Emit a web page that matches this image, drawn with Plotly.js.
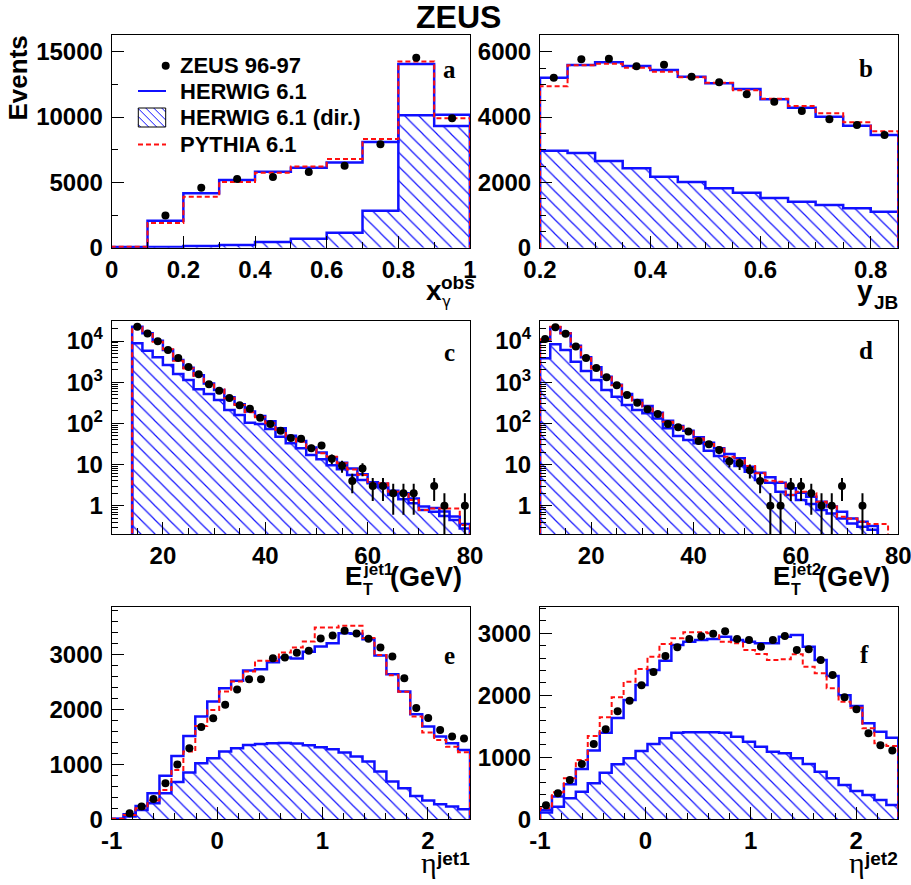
<!DOCTYPE html>
<html><head><meta charset="utf-8">
<script src="https://cdn.plot.ly/plotly-3.0.1.min.js"></script>
<style>html,body{margin:0;padding:0;background:#fff}#plot{width:911px;height:885px}</style>
</head><body><div id="plot"></div>
<script>
// ---------- Panel a : x_gamma^obs ----------
const xgEdges  = [0,0.1,0.2,0.3,0.4,0.5,0.6,0.7,0.8,0.9,1.0];
const xgHerwig = [60,2070,4160,5180,5820,6120,6530,8090,14060,10180];
const xgPythia = [80,1890,3900,5030,5740,6220,6790,8320,14260,9900];
const xgDirect = [10,50,130,200,430,690,1150,2830,10130,9310];
const xgDataX  = [0.15,0.25,0.35,0.45,0.55,0.65,0.75,0.85,0.95];
const xgData   = [2470,4590,5260,5410,5790,6280,7910,14540,9900];

// ---------- Panel b : y_JB ----------
const yjbEdges  = [0.2,0.25,0.3,0.35,0.4,0.45,0.5,0.55,0.6,0.65,0.7,0.75,0.8,0.85];
const yjbHerwig = [5204,5592,5673,5561,5439,5235,5031,4857,4541,4286,4010,3735,3449];
const yjbPythia = [4939,5582,5633,5510,5388,5214,5051,4816,4561,4337,4112,3837,3561];
const yjbDirect = [2969,2898,2653,2429,2173,2010,1816,1684,1520,1408,1306,1204,1102];
const yjbDataX  = [0.225,0.275,0.325,0.375,0.425,0.475,0.525,0.575,0.625,0.675,0.725,0.775,0.825];
const yjbData   = [5204,5765,5786,5551,5602,5235,5061,4694,4469,4184,3929,3755,3449];

// ---------- Panel c : E_T^jet1 ----------
const et1Edges  = [14,16,18,20,22,24,26,28,30,32,34,36,38,40,42,44,46,48,50,52,54,56,58,60,62,64,66,68,70,72,74,76,78,80];
const et1Herwig = [22300,15350,10200,6040,3450,2250,1465,930,650,430,290,195,150,112,76,50,37,26,19.5,15,11,8,5.8,3.7,3.4,2.3,2.0,1.5,0.95,0.88,0.72,0.55,0.36];
const et1Pythia = [21500,15900,9600,6270,3320,2160,1420,935,670,405,278,185,140,100,69,47.6,35.9,23.4,18.7,15.5,10.7,7.6,5.56,3.49,3.49,2.19,2.07,1.37,0.79,0.86,0.86,0.86,0.34];
const et1Direct = [8770,5820,4010,2610,1580,1130,670,516,369,211,159,104,96,72.8,47.4,32.7,24.7,17,13.4,9.55,7.64,5.56,4.2,3.49,2.79,1.82,1.43,1.14,0.79,0.71,0.56,0.45,0.28];
const et1DataX  = [15,17,19,21,23,25,27,29,31,33,35,37,39,41,43,45,47,49,51,53,55,57,59,61,63,65,67,69,73,75,79];
const et1Data   = [22300,15300,9800,6050,3860,2330,1550,885,620,412,274,227,137,96,66,44,42,25,29,13.9,9.3,4,8,3,3,2,2,2,3,1,1];
const et1ErrUp  = [149,124,99,78,62,48,39,30,25,20,17,15,12,10,8.1,6.6,6.5,5,5.4,3.7,3,2,2.8,1.7,1.7,1.4,1.4,1.4,1.7,1,1];
const et1ErrDn  = [149,124,99,78,62,48,39,30,25,20,17,15,12,10,8.1,6.6,6.5,5,5.4,3.7,3,2,2.8,1.7,1.7,1.4,1.4,1.4,1.7,0.999,0.999];

// ---------- Panel d : E_T^jet2 ----------
const et2Edges  = [10,12,14,16,18,20,22,24,26,28,30,32,34,36,38,40,42,44,46,48,50,52,54,56,58,60,62,64,66,68,70,72,74,76];
const et2PyEdges= [10,12,14,16,18,20,22,24,26,28,30,32,34,36,38,40,42,44,46,48,50,52,54,56,58,60,62,64,66,68,70,72,74,76,78];
const et2Herwig = [10570,21500,15350,7700,4010,2290,1360,870,516,369,264,182,116,86,66.4,45.7,33.9,24.7,18,14.1,8.86,6.34,4.88,3.62,2.64,2.07,1.65,1.25,0.95,0.71,0.49,0.41,0.32];
const et2Pythia = [11000,22300,15350,7300,3790,2160,1310,840,496,355,254,175,110,83,69,43,31.5,26,15.5,12.9,9.2,6.1,4.05,3.83,1.82,2.19,2.0,1.25,0.95,0.54,0.49,0.41,0.36,0.36];
const et2Direct = [3790,8300,6040,3150,1870,1130,645,444,279,211,175,132,75.6,49.2,39.4,32.7,21.7,16.1,12.2,9.2,6.7,4.2,3.62,2.19,1.82,1.37,1.1,0.79,0.65,0.49,0.37,0.31,0.26];
const et2DataX  = [11,13,15,17,19,21,23,25,27,29,31,33,35,37,39,41,43,45,47,49,51,53,55,57,59,61,63,65,67,69,73];
const et2Data   = [11200,21500,15000,7400,3860,2210,1310,838,488,318,219,169,96,80,63,37,31,22.5,12,10.7,7.3,4,1,1,3,3,2,1,1,3,1];
const et2ErrUp  = [106,147,122,86,62,47,36,29,22,18,15,13,10,9,8,6.1,5.6,4.7,3.5,3.3,2.7,2,1,1,1.7,1.7,1.4,1,1,1.7,1];
const et2ErrDn  = [106,147,122,86,62,47,36,29,22,18,15,13,10,9,8,6.1,5.6,4.7,3.5,3.3,2.7,2,0.999,0.999,1.7,1.7,1.4,0.999,0.999,1.7,0.999];

// ---------- Panels e, f : eta^jet1, eta^jet2 ----------
const etaEdges  = [-1,-0.8867,-0.7733,-0.66,-0.5467,-0.4333,-0.32,-0.2067,-0.0933,0.02,0.1333,0.2467,0.36,0.4733,0.5867,0.7,0.8133,0.9267,1.04,1.1533,1.2667,1.38,1.4933,1.6067,1.72,1.8333,1.9467,2.06,2.1733,2.2867,2.4];
const etaCenters= [-0.9433,-0.83,-0.7167,-0.6033,-0.49,-0.3767,-0.2633,-0.15,-0.0367,0.0767,0.19,0.3033,0.4167,0.53,0.6433,0.7567,0.87,0.9833,1.0967,1.21,1.3233,1.4367,1.55,1.6633,1.7767,1.89,2.0033,2.1167,2.23,2.3433];

const eta1Herwig = [12,91,243,474,795,1154,1518,1870,2143,2386,2520,2708,2732,2860,2945,2927,3048,3145,3206,3388,3376,3279,2981,2641,2325,1913,1688,1506,1384,1263];
const eta1Pythia = [12,79,200,340,534,899,1233,1700,1991,2325,2508,2690,2884,2884,3036,3127,3236,3491,3491,3521,3521,3300,2990,2620,2320,1870,1580,1445,1320,1220];
const eta1Direct = [6,49,170,291,474,680,850,1020,1111,1233,1293,1354,1372,1384,1390,1378,1348,1311,1275,1214,1141,1050,868,686,565,425,340,273,231,182];
const eta1DataX  = etaCenters.slice(1);
const eta1Data   = [109,231,370,656,996,1293,1682,1840,2083,2362,2550,2550,2933,2945,3030,3066,3291,3345,3430,3382,3285,3127,2963,2568,2028,1846,1627,1506,1469];

const eta2Herwig = [151,366,565,812,1108,1398,1634,1925,2167,2409,2559,2812,2866,2892,2909,2946,2892,2866,2839,2839,2946,2973,2785,2570,2312,2000,1828,1548,1414,1317];
const eta2Pythia = [177,435,661,957,1344,1645,1968,2220,2425,2624,2828,2919,3016,3016,3000,2866,2839,2731,2667,2570,2581,2661,2462,2355,2113,1898,1800,1468,1226,1183];
const eta2Direct = [108,204,339,446,581,753,887,984,1102,1215,1306,1398,1403,1403,1403,1398,1333,1253,1172,1091,1065,984,892,769,661,554,457,392,312,231];
const eta2DataX  = etaCenters;
const eta2Data   = [226,419,634,892,1215,1452,1742,1914,2161,2376,2634,2774,2909,2952,2995,3032,2909,2892,2785,2892,2957,2731,2742,2570,2328,1968,1774,1387,1194,1108];

// ---------- tick labels ----------
const logTickVals = [1,10,100,1000,10000];
const logTickText = ['1','10','10<sup>2</sup>','10<sup>3</sup>','10<sup>4</sup>'];
const etTickVals  = [20,40,60,80];
const etaTickVals = [-1,0,1,2];
const etaTickText = ['-1','0','1','2'];
const legendLabels = ['ZEUS 96-97','HERWIG 6.1','HERWIG 6.1 (dir.)','PYTHIA 6.1'];

// ---------- styling ----------
const BLUE = '#1010ff', RED = '#ff1010';
const W = 911, H = 885;
const PX = p => p / W, PY = p => 1 - p / H;

function stepXY(edges, vals, base) {
  const x = [edges[0]], y = [base];
  for (let i = 0; i < vals.length; i++) { x.push(edges[i]); y.push(vals[i]); }
  x.push(edges[edges.length - 1]); y.push(vals[vals.length - 1]);
  x.push(edges[edges.length - 1]); y.push(base);
  return {x, y};
}

const traces = [];
function panel(n, edges, herwig, pythia, direct, dataX, data, base, pyEdges, errUp, errDn) {
  const xa = n === 1 ? 'x' : 'x' + n, ya = n === 1 ? 'y' : 'y' + n;
  const d = stepXY(edges, direct, base);
  traces.push({x: d.x, y: d.y, xaxis: xa, yaxis: ya, mode: 'lines', line: {shape: 'hv', color: BLUE, width: 2.5},
    fill: 'toself', fillcolor: 'rgba(255,255,255,0)',
    fillpattern: {shape: '\\', fgcolor: BLUE, fgopacity: 1, bgcolor: 'rgba(255,255,255,0)', size: 10, solidity: 0.12},
    hoverinfo: 'skip', showlegend: false});
  const h = stepXY(edges, herwig, base);
  traces.push({x: h.x, y: h.y, xaxis: xa, yaxis: ya, mode: 'lines', line: {shape: 'hv', color: BLUE, width: 2.5}, hoverinfo: 'skip', showlegend: false});
  const p = stepXY(pyEdges || edges, pythia, base);
  traces.push({x: p.x, y: p.y, xaxis: xa, yaxis: ya, mode: 'lines', line: {shape: 'hv', color: RED, width: 2, dash: '5px,3px'}, hoverinfo: 'skip', showlegend: false});
  const tr = {x: dataX, y: data, xaxis: xa, yaxis: ya, mode: 'markers', marker: {color: 'black', size: 8}, showlegend: false};
  if (errUp) tr.error_y = {type: 'data', symmetric: false, array: errUp, arrayminus: errDn, color: 'black', thickness: 2, width: 0};
  traces.push(tr);
}
panel(1, xgEdges, xgHerwig, xgPythia, xgDirect, xgDataX, xgData, 0);
panel(2, yjbEdges, yjbHerwig, yjbPythia, yjbDirect, yjbDataX, yjbData, 0);
panel(3, et1Edges, et1Herwig, et1Pythia, et1Direct, et1DataX, et1Data, 1e-3, null, et1ErrUp, et1ErrDn);
panel(4, et2Edges, et2Herwig, et2Pythia, et2Direct, et2DataX, et2Data, 1e-3, et2PyEdges, et2ErrUp, et2ErrDn);
panel(5, etaEdges, eta1Herwig, eta1Pythia, eta1Direct, eta1DataX, eta1Data, 0);
panel(6, etaEdges, eta2Herwig, eta2Pythia, eta2Direct, eta2DataX, eta2Data, 0);

const FONT = 'Liberation Sans, Arial, Helvetica, sans-serif';
const SERIF = 'Liberation Serif, Times New Roman, serif';
const tickfont = {family: FONT, size: 24, color: 'black', weight: 'bold'};
function ax(domain, anchor, extra) {
  return Object.assign({domain, anchor, showline: true, mirror: true, linecolor: 'black', linewidth: 1,
    ticks: 'inside', ticklen: 12, tickwidth: 1, tickcolor: 'black', showgrid: false, zeroline: false,
    tickfont, ticklabelstandoff: 0, ticklabeloverflow: 'allow', fixedrange: true}, extra);
}
const yax = (domain, anchor, extra) => ax(domain, anchor, Object.assign({ticklabelstandoff: 3}, extra));
const minorLin = (dt) => ({ticks: 'inside', ticklen: 6, tickwidth: 1, tickcolor: 'black', dtick: dt, showgrid: false});
const logMinorVals = [];
for (let e = -1; e <= 4; e++) for (let k = 2; k <= 9; k++) logMinorVals.push(k * Math.pow(10, e));
const minorLog = {ticks: 'inside', ticklen: 6, tickwidth: 1, tickcolor: 'black', tickmode: 'array', tickvals: logMinorVals, showgrid: false};

const colA = [111.7 / W, 470 / W], colB = [540 / W, 898.3 / W];
const row1 = [1 - 247.7 / H, 1 - 35 / H], row2 = [1 - 534.3 / H, 1 - 321 / H], row3 = [1 - 819.3 / H, 1 - 606.7 / H];

const layout = {
  width: W, height: H, margin: {l: 0, r: 0, t: 0, b: 0}, paper_bgcolor: 'white', plot_bgcolor: 'white',
  showlegend: false,
  xaxis:  ax(colA, 'y',  {range: [0, 1], tick0: 0, dtick: 0.2, minor: minorLin(0.1)}),
  yaxis:  yax(row1, 'x',  {range: [0, 16280], tick0: 0, dtick: 5000, tickformat: 'd', minor: minorLin(2500)}),
  xaxis2: ax(colB, 'y2', {range: [0.2, 0.85], tick0: 0, dtick: 0.2, minor: minorLin(0.05)}),
  yaxis2: yax(row1, 'x2', {range: [0, 6510], tick0: 0, dtick: 2000, tickformat: 'd', minor: minorLin(500)}),
  xaxis3: ax(colA, 'y3', {range: [10, 80], tickmode: 'array', tickvals: etTickVals, minor: minorLin(5)}),
  yaxis3: yax(row2, 'x3', {type: 'log', range: [-0.695, 4.486], tickmode: 'array', tickvals: logTickVals, ticktext: logTickText, minor: minorLog}),
  xaxis4: ax(colB, 'y4', {range: [10, 80], tickmode: 'array', tickvals: etTickVals, minor: minorLin(5)}),
  yaxis4: yax(row2, 'x4', {type: 'log', range: [-0.695, 4.486], tickmode: 'array', tickvals: logTickVals, ticktext: logTickText, minor: minorLog}),
  xaxis5: ax(colA, 'y5', {range: [-1, 2.4], tickmode: 'array', tickvals: etaTickVals, ticktext: etaTickText, minor: minorLin(0.2)}),
  yaxis5: yax(row3, 'x5', {range: [0, 3870], tick0: 0, dtick: 1000, tickformat: 'd', minor: minorLin(200)}),
  xaxis6: ax(colB, 'y6', {range: [-1, 2.4], tickmode: 'array', tickvals: etaTickVals, ticktext: etaTickText, minor: minorLin(0.2)}),
  yaxis6: yax(row3, 'x6', {range: [0, 3430], tick0: 0, dtick: 1000, tickformat: 'd', minor: minorLin(200)}),
  annotations: [], shapes: []
};

function txt(text, x, y, size, opts) {
  layout.annotations.push(Object.assign({text, x: PX(x), y: PY(y), xref: 'paper', yref: 'paper', showarrow: false,
    xanchor: 'left', yanchor: 'middle', borderpad: 0,
    font: {family: FONT, size, color: 'black', weight: 'bold'}}, opts || {}));
}
// title and y title
txt('ZEUS', 459, 17, 32, {xanchor: 'center'});
txt('Events', 18, 78.5, 26, {xanchor: 'center', textangle: -90});
// panel letters
const letterFont = s => ({font: {family: SERIF, size: s, color: 'black', weight: 'bold'}, xanchor: 'center'});
txt('a', 449, 69, 25, letterFont(25));
txt('b', 866, 68, 25, letterFont(25));
txt('c', 449, 352, 25, letterFont(25));
txt('d', 866, 351, 25, letterFont(25));
txt('e', 449, 655, 25, letterFont(25));
txt('f', 864, 654, 25, letterFont(25));
// axis titles
txt('x', 425, 290, 28);
txt('obs', 440, 283, 19);
txt('γ', 441, 302, 15, {font: {family: 'DejaVu Sans, sans-serif', size: 15, color: 'black'}});
txt('y', 856, 290, 28);
txt('JB', 873, 302, 19);
[0, 428.3].forEach((off, i) => {
  txt('E', 344 + off, 576, 26);
  txt('jet' + (i + 1), 362 + off, 569, 17);
  txt('T', 362 + off, 589, 16);
  txt('(GeV)', 389 + off, 577, 27);
  txt('η', 420 + off, 862, 30, {font: {family: SERIF, size: 30, color: 'black'}});
  txt('jet' + (i + 1), 435 + off, 858, 19);
});
// legend (panel a)
const legY = [65.7, 91, 118, 144.5];
legendLabels.forEach((t, i) => txt(t, 179, legY[i], 22));
const shp = s => layout.shapes.push(Object.assign({xref: 'paper', yref: 'paper'}, s));
shp({type: 'circle', x0: PX(161.7), x1: PX(169.7), y0: PY(69.7), y1: PY(61.7), fillcolor: 'black', line: {width: 0}});
shp({type: 'line', x0: PX(138), x1: PX(166), y0: PY(91), y1: PY(91), line: {color: BLUE, width: 2}});
shp({type: 'line', x0: PX(138), x1: PX(166), y0: PY(144.5), y1: PY(144.5), line: {color: RED, width: 2, dash: '5px,3px'}});
const bx0 = 138.3, by0 = 108, bx1 = 165.7, by1 = 127;
for (let k = by0 - bx1 + 4; k < by1 - bx0; k += 8) {
  const sx = Math.max(bx0, by0 - k), ex = Math.min(bx1, by1 - k);
  if (ex > sx) shp({type: 'line', x0: PX(sx), y0: PY(sx + k), x1: PX(ex), y1: PY(ex + k), line: {color: BLUE, width: 1}});
}
shp({type: 'rect', x0: PX(bx0), x1: PX(bx1), y0: PY(by1), y1: PY(by0), line: {color: 'black', width: 1}, fillcolor: 'rgba(0,0,0,0)'});

Plotly.newPlot('plot', traces, layout, {staticPlot: true, displayModeBar: false});
</script>
</body></html>
